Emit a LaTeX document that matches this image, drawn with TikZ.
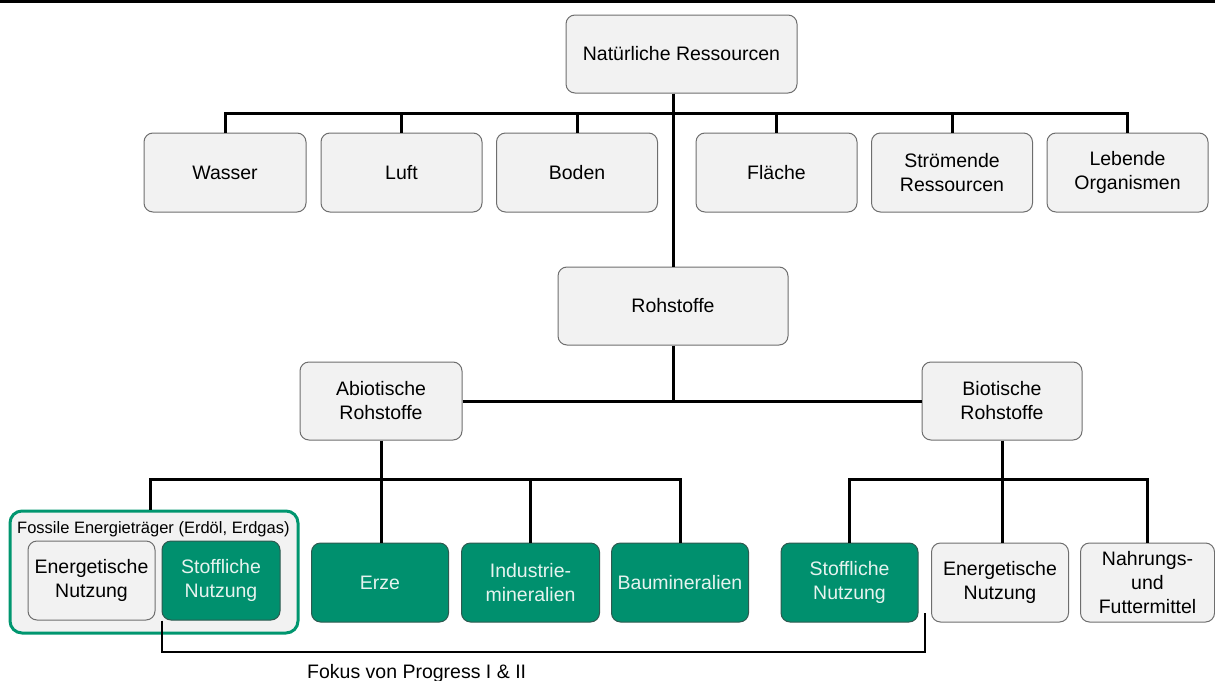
\documentclass[tikz,border=0pt]{standalone}
\usepackage{fontspec}
\setmainfont{Liberation Sans}
\definecolor{boxgray}{HTML}{F2F2F2}
\definecolor{boxline}{HTML}{6E6E6E}
\definecolor{greenfill}{HTML}{00906E}
\definecolor{greenline}{HTML}{2E5A50}
\definecolor{greentext}{HTML}{E6F3EF}
\definecolor{fossilline}{HTML}{00966F}
\begin{document}
\begin{tikzpicture}[x=1pt,y=-1pt,
  base/.style={rounded corners=9pt, line width=1pt, inner sep=0pt, align=center,
    font=\fontsize{19.5}{24}\selectfont},
  gbox/.style={base, draw=boxline, fill=boxgray, text=black},
  fbox/.style={base, draw=greenline, fill=greenfill, text=greentext},
  conn/.style={line width=3pt, draw=black},
  bracket/.style={line width=2pt, draw=black},
  fossilbox/.style={rounded corners=12pt, line width=3pt, draw=fossilline, fill=boxgray, inner sep=0pt},
  lbl/.style={inner sep=0pt, text=black}]
\useasboundingbox (0,0) rectangle (1215,680);
\fill[black] (0,0) rectangle (1215,2.5);

% top level
\node[gbox, minimum width=231pt, minimum height=78pt] (nat) at (681.5,54) {Natürliche Ressourcen};
\node[gbox, minimum width=162pt, minimum height=79pt] (wasser) at (225,172.5) {Wasser};
\node[gbox, minimum width=161pt, minimum height=79pt] (luft) at (401.5,172.5) {Luft};
\node[gbox, minimum width=161pt, minimum height=79pt] (boden) at (577,172.5) {Boden};
\node[gbox, minimum width=161pt, minimum height=79pt] (flaeche) at (776.5,172.5) {Fläche};
\node[gbox, minimum width=161pt, minimum height=79pt] (stroem) at (952,172.5) {Strömende\\Ressourcen};
\node[gbox, minimum width=161pt, minimum height=79pt] (lebend) at (1127.5,172.5) {Lebende\\Organismen};

\node[gbox, minimum width=230pt, minimum height=78pt] (roh) at (673,306) {Rohstoffe};
\node[gbox, minimum width=162pt, minimum height=78pt] (abio) at (381,401) {Abiotische\\Rohstoffe};
\node[gbox, minimum width=160pt, minimum height=78pt] (bio) at (1002,401) {Biotische\\Rohstoffe};

% fossil group
\node[fossilbox, minimum width=288pt, minimum height=122pt] (fossil) at (154,572) {};
\node[lbl, anchor=base west, font=\fontsize{16.5}{20}\selectfont] (fossiltitle) at (17,533) {Fossile Energieträger (Erdöl, Erdgas)};
\node[gbox, minimum width=127pt, minimum height=79pt] (en1) at (91.5,580.5) {Energetische\\Nutzung};
\node[fbox, minimum width=118pt, minimum height=79pt] (st1) at (221,580.5) {Stoffliche\\Nutzung};

\node[fbox, minimum width=137pt, minimum height=79pt] (erze) at (380,582.5) {Erze};
\node[fbox, minimum width=138pt, minimum height=79pt] (ind) at (530.5,582.5) {Industrie-\\mineralien};
\node[fbox, minimum width=137pt, minimum height=79pt] (bau) at (680,582.5) {Baumineralien};

\node[fbox, minimum width=137pt, minimum height=79pt] (st2) at (849.5,582.5) {Stoffliche\\Nutzung};
\node[gbox, minimum width=137pt, minimum height=79pt] (en2) at (1000,582.5) {Energetische\\Nutzung};
\node[gbox, minimum width=134pt, minimum height=79pt] (nah) at (1147.5,582.5) {Nahrungs-\\und\\Futtermittel};

% connectors
\coordinate (tb) at (0,113);
\coordinate (ab) at (0,479);
\coordinate (bk) at (0,652);
\coordinate (brR) at (925,613);

\draw[conn] (nat.south -| roh.north) -- (roh.north);
\draw[conn] (wasser.north) -- (wasser.north |- tb) -- (lebend.north |- tb) -- (lebend.north);
\draw[conn] (luft.north) -- (luft.north |- tb);
\draw[conn] (boden.north) -- (boden.north |- tb);
\draw[conn] (flaeche.north) -- (flaeche.north |- tb);
\draw[conn] (stroem.north) -- (stroem.north |- tb);

\draw[conn] (roh.south) -- (roh.south |- abio.east);
\draw[conn] (abio.east) -- (bio.west);

\draw[conn] ([xshift=-3.5pt]fossil.north) -- ([xshift=-3.5pt]fossil.north |- ab) -- (bau.north |- ab) -- (bau.north);
\draw[conn] (abio.south) -- (abio.south |- erze.north);
\draw[conn] (ind.north) -- (ind.north |- ab);

\draw[conn] (st2.north) -- (st2.north |- ab) -- (nah.north |- ab) -- (nah.north);
\draw[conn] (bio.south) -- (bio.south |- en2.north);

\draw[bracket] (st1.south west) -- (st1.south west |- bk) -- (brR |- bk) -- (brR);
\node[lbl, anchor=base west, font=\fontsize{19.5}{24}\selectfont] (fokus) at (307,678) {Fokus von Progress I \& II};
\end{tikzpicture}
\end{document}
